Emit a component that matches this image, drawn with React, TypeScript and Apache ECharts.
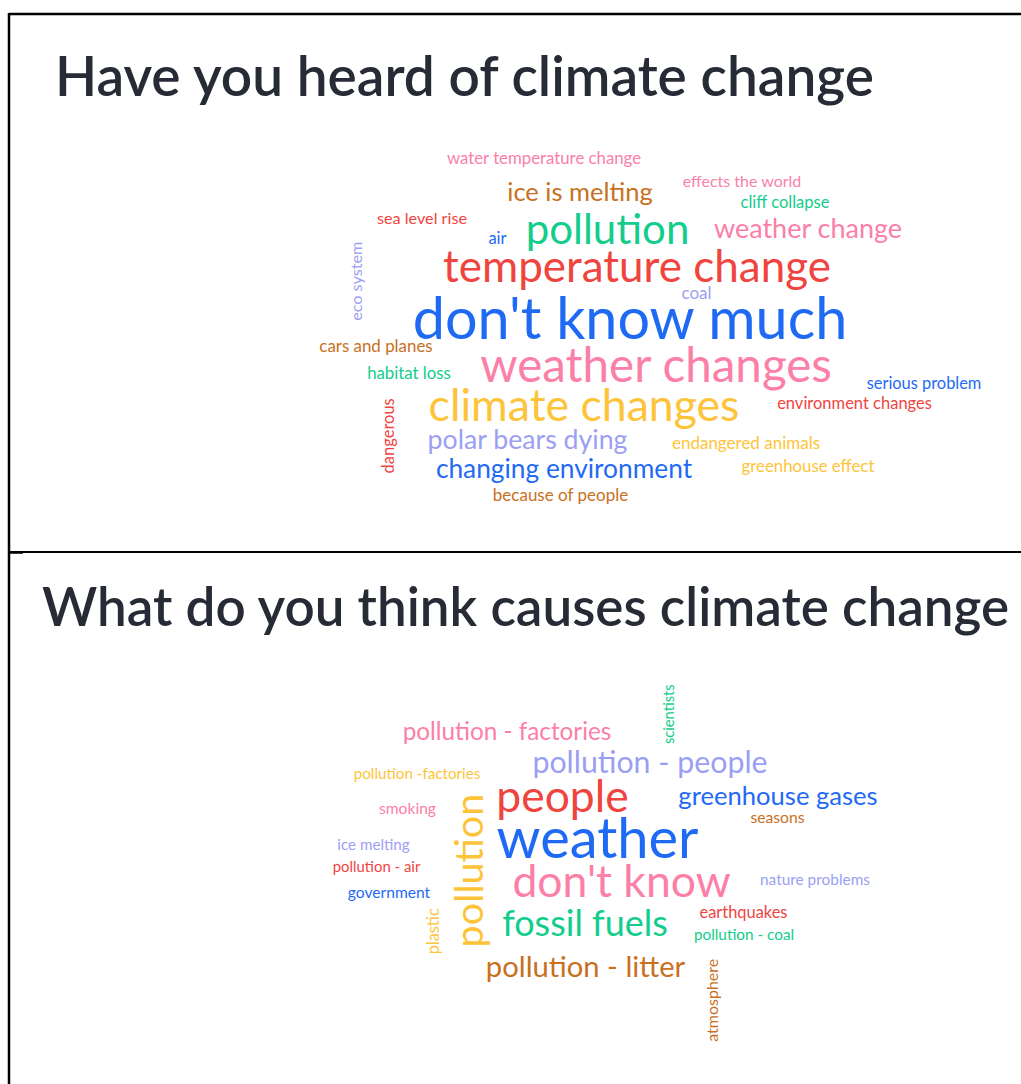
import React, { useEffect, useRef } from "react";
import * as echarts from "echarts";

// Palette used by the word clouds
const palette = ["#1f6af5", "#f0443f", "#fb7fa7", "#13cd8c", "#fdc43a", "#c9701e", "#9b9ff3"];
// 0 blue, 1 red, 2 pink, 3 green, 4 yellow, 5 brown, 6 lavender

const titles = ["Have you heard of climate change", "What do you think causes climate change"];

// ---- Cloud 1 ----
const words1 = [
  "water temperature change", "effects the world", "ice is melting", "cliff collapse",
  "sea level rise", "air", "pollution", "weather change", "eco system",
  "temperature change", "coal", "don't know much", "cars and planes", "weather changes",
  "habitat loss", "serious problem", "climate changes", "environment changes", "dangerous",
  "polar bears dying", "endangered animals", "changing environment", "greenhouse effect",
  "because of people",
];
const weights1 = [16.8, 16, 25.5, 16.5, 16.2, 16.5, 42, 27, 16.2, 44, 17, 57.5, 16.9, 47.5, 16.8, 16.4, 44.6, 16.5, 16.5, 26.7, 17, 26.3, 16.8, 17];
const x1 = [244, 442, 280, 485, 122, 197.5, 307.5, 508, 55, 337, 396.5, 330, 76, 356, 109, 624, 284, 554.5, 88, 227.5, 446, 264, 508, 260.5];
const y1 = [19, 42, 53, 63, 79, 99, 91, 90, 140, 129, 154, 181, 207, 227, 234, 244, 267, 264, 294.5, 301, 304, 330, 327, 356];
const vertical1 = [0, 0, 0, 0, 0, 0, 0, 0, 1, 0, 0, 0, 0, 0, 0, 0, 0, 0, 1, 0, 0, 0, 0, 0];
const colors1 = [2, 2, 5, 3, 1, 0, 3, 2, 6, 1, 6, 0, 5, 2, 3, 0, 4, 1, 1, 6, 4, 0, 4, 5];

// ---- Cloud 2 ----
const words2 = [
  "scientists", "pollution - factories", "pollution - people", "pollution -factories",
  "people", "greenhouse gases", "seasons", "smoking", "pollution", "weather",
  "ice melting", "pollution - air", "nature problems", "don't know", "government",
  "earthquakes", "plastic", "fossil fuels", "pollution - coal", "pollution - litter",
  "atmosphere",
];
const weights2 = [14.7, 24.3, 30.3, 15.2, 44.4, 25.6, 15.7, 15.6, 39.4, 56, 15.2, 14.9, 15.4, 44.5, 15.6, 16.4, 16.3, 36, 15.3, 29.2, 16];
const x2 = [368, 207, 350, 117, 262.5, 478, 477.5, 107.5, 167, 297.5, 73.5, 76.5, 515, 321.5, 89, 443.5, 132, 285, 444, 285.5, 411];
const y2 = [53, 72, 103, 114, 138, 137, 158, 149, 207.5, 181, 185, 207, 220, 223, 233, 253, 270, 265, 275, 308, 339];
const vertical2 = [1, 0, 0, 0, 0, 0, 0, 0, 1, 0, 0, 0, 0, 0, 0, 0, 1, 0, 0, 0, 1];
const colors2 = [3, 2, 6, 4, 1, 0, 5, 2, 4, 0, 6, 1, 6, 2, 0, 1, 4, 3, 3, 5, 5];

const FONT = "Lato, 'Noto Sans', sans-serif";

function cloudSeries(words: string[], weights: number[], xs: number[], ys: number[], vert: number[], cols: number[], idx: number) {
  return {
    type: "scatter",
    xAxisIndex: idx,
    yAxisIndex: idx,
    symbolSize: 1,
    itemStyle: { color: "transparent", opacity: 1 },
    emphasis: { disabled: true },
    silent: true,
    label: {
      show: true,
      position: "inside",
      formatter: "{b}",
      fontFamily: FONT,
      fontWeight: 400,
      opacity: 1,
      align: "center",
      verticalAlign: "middle",
    },
    data: words.map((w, i) => {
      const fs = weights[i];
      const shift = -0.08 * fs; // font-metric correction: centre on x-height
      return {
        name: w,
        value: [xs[i], ys[i]],
        label: {
          fontSize: fs,
          color: palette[cols[i]],
          rotate: vert[i] ? 90 : 0,
          offset: vert[i] ? [shift, 0] : [0, shift],
        },
      };
    }),
  };
}

export default function App() {
  const ref = useRef<HTMLDivElement>(null);
  useEffect(() => {
    document.body.style.margin = "0";
    const chart = echarts.init(ref.current!, null, { renderer: "svg" });
    chart.setOption({
      animation: false,
      backgroundColor: "#ffffff",
      grid: [
        { left: 300, top: 140, width: 720, height: 380 },
        { left: 300, top: 660, width: 720, height: 400 },
      ],
      xAxis: [
        { type: "value", gridIndex: 0, min: 0, max: 720, show: false },
        { type: "value", gridIndex: 1, min: 0, max: 720, show: false },
      ],
      yAxis: [
        { type: "value", gridIndex: 0, min: 0, max: 380, inverse: true, show: false },
        { type: "value", gridIndex: 1, min: 0, max: 400, inverse: true, show: false },
      ],
      graphic: [
        { type: "line", shape: { x1: 9, y1: 14, x2: 1021, y2: 14 }, style: { stroke: "#000", lineWidth: 2.5 } },
        { type: "line", shape: { x1: 9, y1: 13, x2: 9, y2: 1084 }, style: { stroke: "#000", lineWidth: 2.5 } },
        { type: "line", shape: { x1: 9, y1: 552, x2: 1021, y2: 552 }, style: { stroke: "#000", lineWidth: 1.8 } },
        { type: "line", shape: { x1: 9, y1: 553, x2: 23, y2: 553 }, style: { stroke: "#000", lineWidth: 1.5 } },
        {
          type: "text", x: 55, y: 75,
          style: { text: titles[0], fontFamily: FONT, fontSize: 55, fontWeight: 600, fill: "#262b36", verticalAlign: "middle", align: "left" },
        },
        {
          type: "text", x: 42, y: 605,
          style: { text: titles[1], fontFamily: FONT, fontSize: 53, fontWeight: 600, fill: "#262b36", verticalAlign: "middle", align: "left" },
        },
      ],
      series: [
        cloudSeries(words1, weights1, x1, y1, vertical1, colors1, 0),
        cloudSeries(words2, weights2, x2, y2, vertical2, colors2, 1),
      ],
    });
    return () => chart.dispose();
  }, []);
  return <div ref={ref} style={{ width: 1021, height: 1084 }} />;
}
